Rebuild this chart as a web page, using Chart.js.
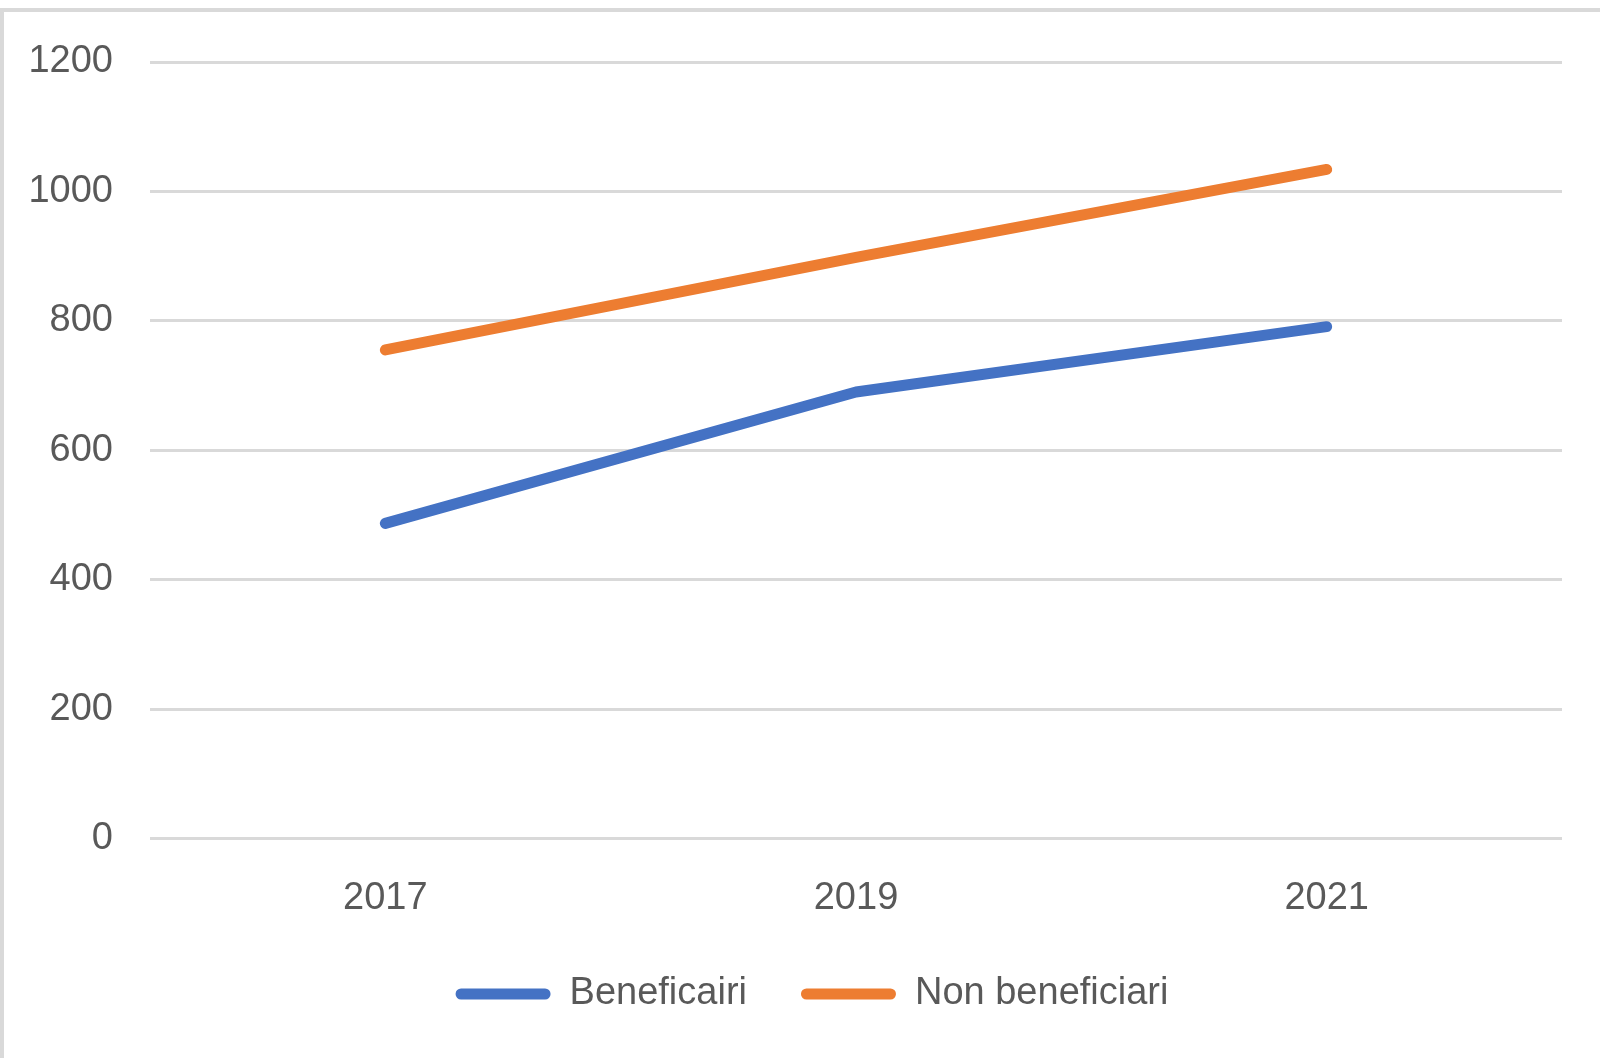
<!DOCTYPE html>
<html>
<head>
<meta charset="utf-8">
<script src="https://cdn.jsdelivr.net/npm/chart.js@4/dist/chart.umd.min.js"></script>
<style>
  html, body { margin: 0; padding: 0; background: #ffffff; }
  #wrap { position: relative; width: 1600px; height: 1058px; overflow: hidden; }
  #frame { position: absolute; left: 0; top: 8px; width: 1600px; height: 1058px;
           border-left: 4px solid #d9d9d9; border-top: 4px solid #d9d9d9; box-sizing: border-box; }
  canvas { position: absolute; left: 0; top: 0; }
</style>
</head>
<body>
<div id="wrap">
  <div id="frame"></div>
  <canvas id="c" width="1600" height="1058"></canvas>
</div>
<script>
const categories = ['2017', '2019', '2021'];
const beneficiari = [487, 690, 791];
const nonBeneficiari = [755, 898, 1034];
const seriesNames = ['Beneficairi', 'Non beneficiari'];
const yTicks = [0, 200, 400, 600, 800, 1000, 1200];

const FONT = "'Liberation Sans', Arial, sans-serif";
const TEXT = '#595959';

const legendShift = {
  id: 'legendShift',
  beforeDraw(chart) { if (chart.legend) { chart.legend.left = 62; } }
};

new Chart(document.getElementById('c'), {
  type: 'line',
  data: {
    labels: categories,
    datasets: [
      { label: seriesNames[0], data: beneficiari, borderColor: '#4472C4', backgroundColor: '#4472C4',
        borderWidth: 11, pointRadius: 0, borderCapStyle: 'round', borderJoinStyle: 'round', tension: 0 },
      { label: seriesNames[1], data: nonBeneficiari, borderColor: '#ED7D31', backgroundColor: '#ED7D31',
        borderWidth: 11, pointRadius: 0, borderCapStyle: 'round', borderJoinStyle: 'round', tension: 0 }
    ]
  },
  plugins: [legendShift],
  options: {
    responsive: false,
    animation: false,
    layout: { padding: { top: 62, right: 38, left: 0, bottom: 35 } },
    plugins: {
      tooltip: { enabled: false },
      legend: {
        position: 'bottom',
        labels: {
          boxWidth: 95,
          boxHeight: 11,
          useBorderRadius: true,
          borderRadius: 5.5,
          padding: 54,
          color: TEXT,
          font: { family: FONT, size: 38 },
          generateLabels: (chart) => Chart.defaults.plugins.legend.labels.generateLabels(chart)
            .map(l => Object.assign(l, { lineWidth: 0 }))
        }
      }
    },
    scales: {
      x: {
        offset: true,
        afterFit: (axis) => { axis.height = 82.5; },
        grid: { display: false, drawTicks: false },
        border: { display: false },
        ticks: { color: TEXT, font: { family: FONT, size: 38 }, padding: 37 }
      },
      y: {
        min: 0, max: 1200,
        afterBuildTicks: (axis) => { axis.ticks = yTicks.map(v => ({ value: v })); },
        afterFit: (axis) => { axis.width = 150; },
        grid: { color: '#d9d9d9', lineWidth: 3, drawTicks: false },
        border: { display: false },
        ticks: { color: TEXT, font: { family: FONT, size: 38 }, padding: 37,
                 callback: (v) => String(v) }
      }
    }
  }
});
</script>
</body>
</html>
